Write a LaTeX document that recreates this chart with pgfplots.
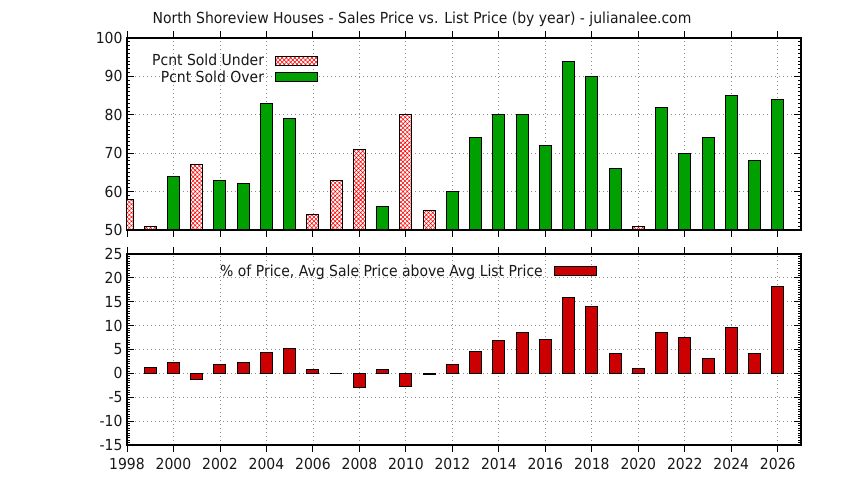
\documentclass[border=0pt]{standalone}
\usepackage{fontspec}
\setmainfont{DejaVu Sans}[FakeStretch=0.92]
\usepackage{pgfplots}
\pgfplotsset{compat=1.18}
\usetikzlibrary{patterns.meta}

\definecolor{webgreen}{HTML}{00A000}
\definecolor{barred}{HTML}{CC0000}
\newcommand{\gpfont}{\fontsize{15.2}{17.5}\selectfont}

\pgfplotstableread{
year val
1998 58
1999 51
2001 67
2006 54
2007 63
2008 71
2010 80
2011 55
2020 51
}\under

\pgfplotstableread{
year val
2000 64
2002 63
2003 62
2004 83
2005 79
2009 56
2012 60
2013 74
2014 80
2015 80
2016 72
2017 94
2018 90
2019 66
2021 82
2022 70
2023 74
2024 85
2025 68
2026 84
}\over

\pgfplotstableread{
year val
1999 1.2
2000 2.3
2001 -1.3
2002 1.9
2003 2.3
2004 4.4
2005 5.2
2006 0.8
2007 0
2008 -2.9
2009 0.8
2010 -2.7
2011 -0.3
2012 1.9
2013 4.6
2014 6.9
2015 8.6
2016 7.1
2017 15.9
2018 14.0
2019 4.2
2020 1.1
2021 8.6
2022 7.5
2023 3.1
2024 9.6
2025 4.2
2026 18.2
}\pct

\pgfplotsset{
  gpstyle/.style={
    scale only axis, width=674pt,
    xmin=1998, xmax=2027,
    xtick={1998,2000,...,2026}, minor x tick num=1,
    xmajorgrids, xminorgrids, ymajorgrids,
    grid style={black!45, line width=0.8pt, dash pattern=on 0.8pt off 3.2pt},
    major tick length=7pt, minor tick length=3.5pt,
    tick style={black, line width=0.9pt},
    axis line style={line width=1.1pt},
    tick align=inside,
    ticklabel style={font=\gpfont, text=black!90},
    /pgf/number format/assume math mode=true,
    /pgf/number format/1000 sep={},
    yticklabel style={xshift=-1pt},
    ybar, bar width=12pt, bar shift=0pt,
    legend plot pos=right,
    legend cell align=right,
    legend image code/.code={\draw[#1] (0pt,-4.5pt) rectangle (42pt,4.5pt);},
    legend style={draw=none, fill=none, anchor=north east,
      font=\gpfont, text=black!90,
      row sep=-1pt, column sep=9pt, inner sep=0pt, outer sep=0pt},
  },
}

\begin{document}
\begin{tikzpicture}
\useasboundingbox (0pt,0pt) rectangle (844pt,480pt);
\fill[white] (0pt,0pt) rectangle (844pt,480pt);

\node[font=\gpfont, text=black!90] at (422pt,461pt)
  {North Shoreview Houses - Sales Price vs. List Price (by year) - julianalee.com};

\begin{axis}[gpstyle,
  at={(127pt,250pt)}, anchor=south west, height=192pt,
  ymin=50, ymax=100,
  ytick={50,60,...,100}, minor y tick num=9,
  xticklabels={},
  legend style={at={(0.2834,0.925)}},
]
\addplot[draw=black, line width=1pt, fill=white,
  postaction={pattern={Hatch[angle=45,distance=3pt,line width=0.55pt]}, pattern color=red}]
  table[x=year, y=val] {\under};
\addlegendentry{Pcnt Sold Under}
\addplot[draw=black, line width=1pt, fill=webgreen]
  table[x=year, y=val] {\over};
\addlegendentry{Pcnt Sold Over}
\end{axis}

\begin{axis}[gpstyle,
  at={(127pt,35pt)}, anchor=south west, height=191pt,
  ymin=-15, ymax=25,
  ytick={-15,-10,...,25}, minor y tick num=9,
  xticklabel style={yshift=-3pt},
  legend style={at={(0.697,0.955)}},
]
\addplot[draw=black, line width=1pt, fill=barred]
  table[x=year, y=val] {\pct};
\addlegendentry{\% of Price, Avg Sale Price above Avg List Price}
\end{axis}
\end{tikzpicture}
\end{document}
